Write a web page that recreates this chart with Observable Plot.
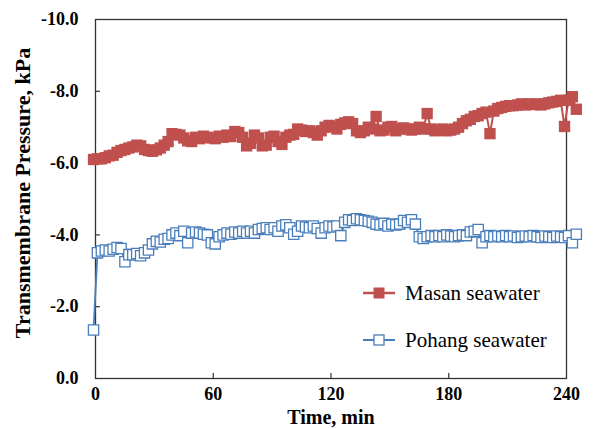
<!DOCTYPE html>
<html><head><meta charset="utf-8">
<script src="https://cdn.jsdelivr.net/npm/d3@7"></script>
<script src="https://cdn.jsdelivr.net/npm/@observablehq/plot@0.6"></script>
<style>
body{margin:0;background:#fff}
#wrap{position:relative;width:593px;height:429px}
#wrap svg{display:block}
#legend{position:absolute;left:0;top:0}
</style>
</head><body><div id="wrap"></div>
<script>
const time = [-1,1,3,5,7,9,11,13,15,17,19,21,23,25,27,29,31,33,35,37,39,41,43,45,47,49,51,53,55,57,59,61,63,65,67,69,71,73,75,77,79,81,83,85,87,89,91,93,95,97,99,101,103,105,107,109,111,113,115,117,119,121,123,125,127,129,131,133,135,137,139,141,143,145,147,149,151,153,155,157,159,161,163,165,167,169,171,173,175,177,179,181,183,185,187,189,191,193,195,197,199,201,203,205,207,209,211,213,215,217,219,221,223,225,227,229,231,233,235,237,239,241,243,245];
const masan = [
-6.10,-6.12,-6.12,-6.15,-6.20,-6.22,-6.30,-6.35,-6.38,-6.42,
-6.45,-6.50,-6.48,-6.38,-6.35,-6.33,-6.37,-6.42,-6.50,-6.60,
-6.82,-6.80,-6.78,-6.70,-6.62,-6.60,-6.72,-6.68,-6.75,-6.72,
-6.70,-6.68,-6.75,-6.72,-6.78,-6.74,-6.88,-6.85,-6.72,-6.48,
-6.55,-6.78,-6.70,-6.48,-6.50,-6.72,-6.75,-6.60,-6.52,-6.72,
-6.78,-6.80,-6.95,-6.92,-6.88,-6.90,-6.85,-6.78,-6.90,-7.00,
-7.05,-7.02,-6.95,-7.08,-7.12,-7.15,-7.10,-6.90,-6.85,-6.90,
-7.00,-6.95,-7.30,-6.90,-6.92,-7.00,-7.02,-6.90,-6.95,-6.98,
-6.95,-6.92,-6.95,-7.00,-6.95,-7.38,-6.95,-6.90,-6.92,-6.95,
-6.90,-6.92,-6.95,-7.00,-7.10,-7.18,-7.22,-7.30,-7.32,-7.38,
-7.42,-6.82,-7.45,-7.52,-7.55,-7.58,-7.60,-7.60,-7.62,-7.65,
-7.62,-7.65,-7.63,-7.65,-7.62,-7.65,-7.68,-7.70,-7.72,-7.75,
-7.02,-7.75,-7.85,-7.50];
const pohang = [
-1.35,-3.50,-3.55,-3.58,-3.55,-3.60,-3.65,-3.62,-3.25,-3.45,
-3.45,-3.48,-3.42,-3.50,-3.58,-3.75,-3.82,-3.80,-3.88,-3.90,
-4.00,-4.05,-3.98,-4.10,-3.78,-4.05,-4.08,-4.05,-4.02,-4.00,
-3.78,-3.75,-3.95,-4.00,-4.05,-4.02,-4.08,-4.05,-4.10,-4.05,
-4.10,-4.05,-4.15,-4.18,-4.20,-4.15,-4.20,-4.10,-4.25,-4.28,
-4.20,-4.02,-4.10,-4.25,-4.22,-4.20,-4.25,-4.18,-4.05,-4.20,
-4.25,-4.22,-4.25,-3.98,-4.35,-4.42,-4.40,-4.45,-4.42,-4.40,
-4.38,-4.35,-4.30,-4.28,-4.32,-4.25,-4.30,-4.28,-4.30,-4.40,
-4.35,-4.42,-4.30,-3.95,-3.90,-3.95,-3.98,-3.95,-3.98,-3.95,
-4.00,-3.97,-3.95,-3.98,-4.00,-3.98,-4.08,-4.10,-4.15,-3.78,
-3.95,-3.98,-3.95,-3.97,-3.95,-3.98,-3.95,-3.97,-3.93,-3.95,
-3.97,-3.95,-3.98,-3.95,-3.93,-3.97,-3.95,-3.93,-3.97,-3.95,
-3.93,-3.98,-3.78,-4.02];
const seriesNames = ["Masan seawater", "Pohang seawater"];
const seriesColors = ["#c0504d", "#4a7ebb"];
const xTicks = [0, 60, 120, 180, 240];
const yTicks = [0, -2, -4, -6, -8, -10];
const xTitle = "Time, min";
const yTitle = "Transmembrane Pressure, kPa";

const dataM = time.map((t, i) => ({t, v: masan[i]}));
const dataP = time.map((t, i) => ({t, v: pohang[i]}));
const serif = "'Liberation Serif','Times New Roman',serif";

const chart = Plot.plot({
  width: 593, height: 429,
  marginLeft: 95, marginRight: 27, marginTop: 19, marginBottom: 51,
  style: {fontFamily: serif, background: "#fff", color: "#000"},
  x: {domain: [0, 240]},
  y: {domain: [0, -10]},
  marks: [
    Plot.axisX({ticks: xTicks, tickSize: 0, tickPadding: 9, fontSize: 18, fontWeight: "bold", tickFormat: d => String(d), label: null}),
    Plot.axisY({ticks: yTicks, tickSize: 0, tickPadding: 17, fontSize: 18, fontWeight: "bold", tickFormat: d => d.toFixed(1), label: null}),
    Plot.tickX(xTicks.slice(1, -1), {x: d => d, insetTop: 354, stroke: "#333", strokeWidth: 1.2}),
    Plot.tickY(yTicks.slice(1, -1), {y: d => d, insetRight: 466, stroke: "#333", strokeWidth: 1.2}),
    Plot.frame({stroke: "#333", strokeWidth: 1.3}),
    Plot.line(dataM, {x: "t", y: "v", stroke: seriesColors[0], strokeWidth: 2}),
    Plot.dot(dataM, {x: "t", y: "v", symbol: "square", r: 6.4, fill: seriesColors[0], stroke: "none"}),
    Plot.line(dataP, {x: "t", y: "v", stroke: seriesColors[1], strokeWidth: 1.8}),
    Plot.dot(dataP, {x: "t", y: "v", symbol: "square", r: 5.8, fill: "#fff", stroke: seriesColors[1], strokeWidth: 1.3}),
    Plot.text([xTitle], {frameAnchor: "bottom", textAnchor: "middle", lineAnchor: "middle", dy: 39, fontSize: 20, fontWeight: "bold", fill: "#000"}),
    Plot.text([yTitle], {frameAnchor: "left", textAnchor: "middle", lineAnchor: "middle", rotate: -90, dx: -73, dy: -6, fontSize: 22, fontWeight: "bold", fill: "#000"})
  ]
});
const wrap = document.getElementById("wrap");
wrap.appendChild(chart);

// legend
const leg = d3.select(wrap).append("svg").attr("id", "legend").attr("width", 593).attr("height", 429);
const legY = [293, 340];
seriesNames.forEach((name, i) => {
  const g = leg.append("g").attr("transform", `translate(0,${legY[i]})`);
  g.append("line").attr("x1", 363).attr("x2", 395).attr("y1", 0).attr("y2", 0)
    .attr("stroke", seriesColors[i]).attr("stroke-width", i === 0 ? 2.5 : 2);
  if (i === 0) {
    g.append("rect").attr("x", 373.5).attr("y", -5.5).attr("width", 11).attr("height", 11).attr("fill", seriesColors[i]);
  } else {
    g.append("rect").attr("x", 374).attr("y", -5).attr("width", 10).attr("height", 10)
      .attr("fill", "#fff").attr("stroke", seriesColors[i]).attr("stroke-width", 1.3);
  }
  g.append("text").attr("x", 405).attr("y", 6.5).attr("font-family", serif).attr("font-size", 21)
    .attr("fill", "#000").text(name);
});
</script>
</body></html>
